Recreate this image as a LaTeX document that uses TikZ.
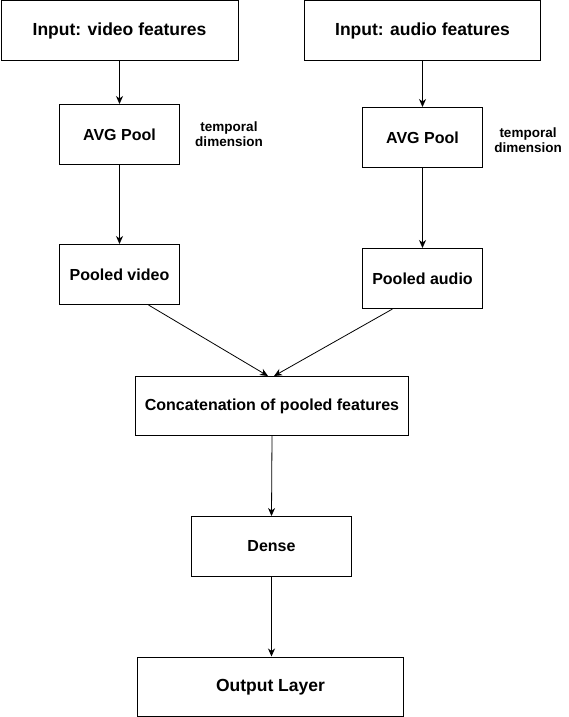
\documentclass[tikz,border=0pt]{standalone}
\usepackage{fontspec}
\setmainfont{Liberation Sans}
\usetikzlibrary{arrows.meta,calc}
\tikzset{
  x=1pt,y=-1pt,
  box/.style={draw,line width=1pt,inner sep=0pt,font=\bfseries\fontsize{16}{18}\selectfont,anchor=north west},
  bigbox/.style={box,font=\bfseries\fontsize{17.5}{20}\selectfont},
  note/.style={align=center,font=\bfseries\fontsize{13.5}{15.5}\selectfont,inner sep=0pt},
  arr/.style={line width=0.8pt,-{Stealth[length=8pt,width=7pt,inset=2.5pt]}}
}
\begin{document}
\begin{tikzpicture}
\useasboundingbox (0,0) rectangle (569,717);
\node[bigbox,minimum width=237pt,minimum height=60pt] (iv) at (0.5,0.5) {Input: video features};
\node[bigbox,minimum width=236pt,minimum height=60pt] (ia) at (304,0.5) {Input: audio features};
\node[box,minimum width=120pt,minimum height=60pt] (pl) at (59,104) {AVG Pool};
\node[box,minimum width=120pt,minimum height=60pt] (pr) at (362,107) {AVG Pool};
\node[box,minimum width=120pt,minimum height=60pt] (pv) at (59,244) {Pooled video};
\node[box,minimum width=120pt,minimum height=60pt] (pa) at (362,248) {Pooled audio};
\node[box,minimum width=273pt,minimum height=59pt] (cc) at (135,376) {Concatenation of pooled features};
\node[box,minimum width=160pt,minimum height=60pt] (de) at (191,516) {Dense};
\node[bigbox,minimum width=266pt,minimum height=59.5pt] (ol) at (137,656.5) {Output Layer};
\node[note] (tl) at (229,134) {temporal\\dimension};
\node[note] (tr) at (528,140) {temporal\\dimension};
\draw[arr] (iv.south) -- (pl.north);
\draw[arr] (ia.south) -- (pr.north);
\draw[arr] (pl.south) -- (pv.north);
\draw[arr] (pr.south) -- (pa.north);
\draw[arr] ([xshift=29pt]pv.south) -- ([xshift=-4pt]cc.north);
\draw[arr] ([xshift=-30pt]pa.south) -- ([xshift=2pt]cc.north);
\draw[arr] (cc.south) -- (de.north);
\draw[arr] (de.south) -- (de.south |- ol.north);
\draw[line width=1pt] ([yshift=-0.5pt]ol.south west) -- ([yshift=-0.5pt]ol.south east);
\end{tikzpicture}
\end{document}
